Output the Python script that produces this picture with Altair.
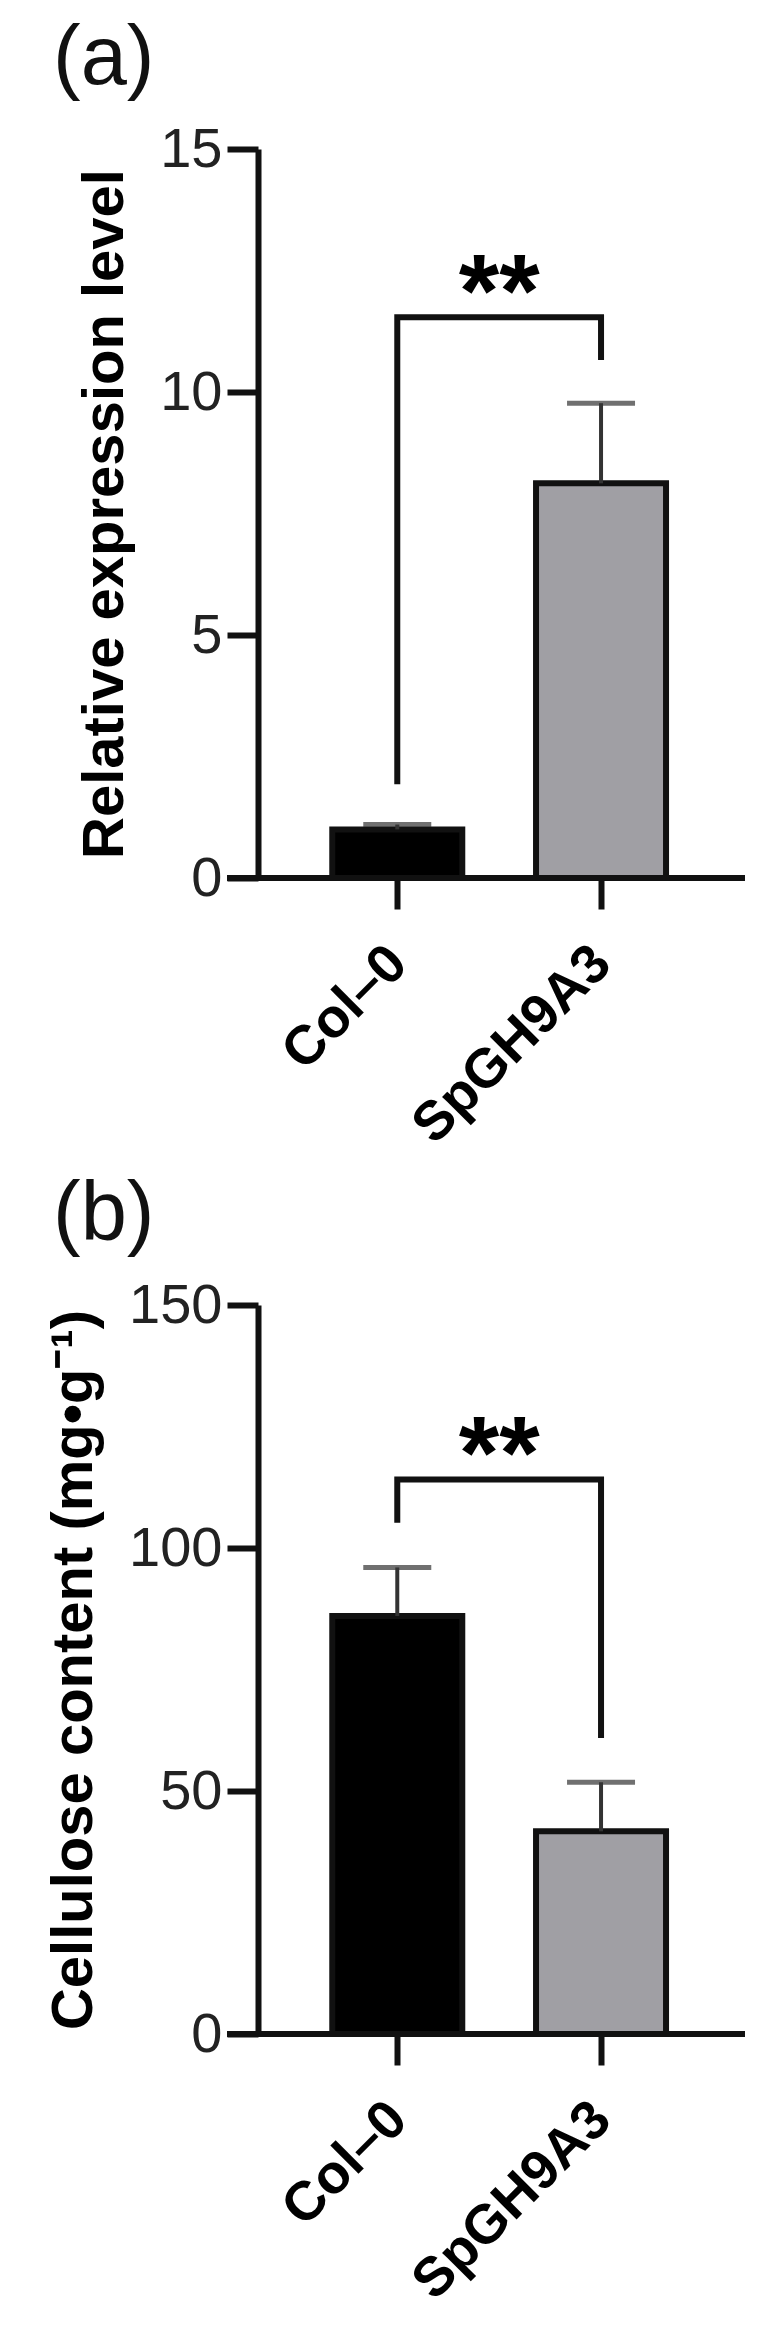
import json
import altair as alt
import pandas as pd

# ---- data ----
groups = ["Col–0", "SpGH9A3"]
group_pos = [0, 1]
bar_colors = ["#000000", "#a09fa4"]

# panel (a): relative expression level
expr_mean = [1.0, 8.12]
expr_err = [0.1, 1.65]
expr_bracket_y = [1.93, 11.54, 11.54, 10.66]

# panel (b): cellulose content
cell_mean = [86.0, 41.7]
cell_err = [10.0, 10.1]
cell_bracket_y = [105.2, 114.1, 114.1, 60.9]

bracket_x = [0, 0, 1, 1]
star_text = "**"

FONT = "Liberation Sans"
W, H = 487, 729
label_expr = json.dumps(groups) + "[datum.value]"


def panel(mean, err, br_y, ymax, ystep, ytitle, tag, tag_dx):
    df = pd.DataFrame({"pos": group_pos, "group": groups, "mean": mean,
                       "top": [m + e for m, e in zip(mean, err)]})
    bdf = pd.DataFrame({"bx": bracket_x, "by": br_y, "ord": [0, 1, 2, 3]})
    sdf = pd.DataFrame({"sx": [0.5], "sy": [br_y[1]], "t": [star_text]})

    xs = alt.Scale(domain=[-0.659, 1.682], nice=False, zero=False)
    ys = alt.Scale(domain=[0, ymax], nice=False)
    xaxis = alt.Axis(values=group_pos, labelExpr=label_expr, domain=False,
                     tickSize=31, tickWidth=6, labelAngle=-45, labelAlign="right",
                     labelBaseline="middle", labelPadding=45, labelFontSize=55,
                     labelFontWeight="bold", labelColor="#000", labelOverlap=False,
                     labelFlush=False, labelBound=False, labelLimit=1000, grid=False)
    yaxis = alt.Axis(values=list(range(0, ymax + 1, ystep)), domainWidth=6,
                     tickSize=31, tickWidth=6, labelFontSize=56, labelPadding=5,
                     titleFontSize=58, titlePadding=25, grid=False,
                     labelFlush=False, labelOverlap=False, titleLimit=2000)

    bars = alt.Chart(df).mark_bar(size=130, stroke="#111", strokeWidth=6,
                                  orient="vertical").encode(
        x=alt.X("pos:Q", scale=xs, axis=xaxis, title=None),
        y=alt.Y("mean:Q", scale=ys, axis=yaxis, title=ytitle),
        color=alt.Color("group:N", scale=alt.Scale(domain=groups, range=bar_colors),
                        legend=None),
    )
    ebar = alt.Chart(df).mark_rule(strokeWidth=4, color="#333").encode(
        x=alt.X("pos:Q", title=None),
        y=alt.Y("mean:Q", title=ytitle),
        y2="top:Q",
    )
    cap = alt.Chart(df).mark_tick(orient="horizontal", size=68, thickness=5,
                                  color="#333").encode(
        x=alt.X("pos:Q", title=None),
        y=alt.Y("top:Q", title=ytitle),
    )
    bracket = alt.Chart(bdf).mark_line(strokeWidth=6, color="#111",
                                       strokeJoin="miter").encode(
        x=alt.X("bx:Q", title=None),
        y=alt.Y("by:Q", title=ytitle),
        order="ord:Q",
    )
    stars = alt.Chart(sdf).mark_text(fontSize=104, fontWeight="bold", font=FONT,
                                     baseline="alphabetic", dy=10, color="#000").encode(
        x=alt.X("sx:Q", title=None),
        y=alt.Y("sy:Q", title=ytitle),
        text="t:N",
    )
    xline = alt.Chart(df).mark_rule(strokeWidth=6, color="#111").encode(
        x=alt.value(-31), x2=alt.value(W), y=alt.datum(0),
    )
    return alt.layer(bars, ebar, cap, bracket, stars, xline).properties(
        width=W, height=H,
        title=alt.TitleParams(tag, anchor="start", frame="group", dx=tag_dx,
                              fontSize=83, font=FONT, fontWeight="normal",
                              color="#111", offset=20),
    )


pa = panel(expr_mean, expr_err, expr_bracket_y, 15, 5,
           "Relative expression level", "(a)", -205)
pb = panel(cell_mean, cell_err, cell_bracket_y, 150, 50,
           "Cellulose content (mg•g⁻¹)", "(b)", -205)

chart = alt.vconcat(pa, pb, spacing=20).properties(
    padding={"left": 37, "top": 10, "right": 5, "bottom": 5}
).configure_view(stroke=None).configure_axis(
    domainColor="#111", tickColor="#111", labelFont=FONT, labelColor="#222",
    titleFont=FONT, titleFontWeight="bold", titleColor="#000",
)

chart.save("out.html", embed_options={"renderer": "svg", "actions": False})
